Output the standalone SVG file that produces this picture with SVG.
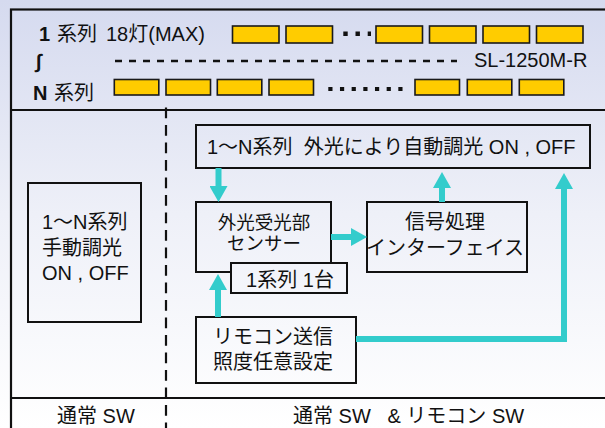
<svg xmlns="http://www.w3.org/2000/svg" width="605" height="428" viewBox="0 0 605 428">
<defs>
<linearGradient id="bg" gradientUnits="userSpaceOnUse" x1="0" y1="0" x2="0" y2="428">
<stop offset="0" stop-color="#d5daef"/>
<stop offset="0.5" stop-color="#eef0f8"/>
<stop offset="1" stop-color="#ffffff"/>
</linearGradient>
<marker id="ah" markerUnits="userSpaceOnUse" markerWidth="16" markerHeight="18" refX="0" refY="9" orient="auto" viewBox="0 0 16 18">
<path d="M0,0 L16,9 L0,18 z" fill="#33cccc"/>
</marker>
<style>
text{font-family:"Liberation Sans","Noto Sans CJK JP",sans-serif;font-size:20px;fill:#111;}
.box{fill:none;stroke:#111;stroke-width:2;}
.lamp{fill:#ffcc00;stroke:#1a1a1a;stroke-width:1.6;}
.frame{fill:none;stroke:#111;stroke-width:2.2;}
.conn{fill:none;stroke:#33cccc;stroke-width:6;marker-end:url(#ah);}
.b{font-weight:bold;}
.m{text-anchor:middle;}
.s{font-size:18.5px;}
</style>
</defs>
<rect x="0" y="0" width="605" height="428" fill="url(#bg)"/>
<g id="frame">
<rect class="frame" x="11" y="9.5" width="610" height="440"/>
<line class="frame" x1="11" y1="110" x2="605" y2="110"/>
<line class="frame" x1="11" y1="398" x2="605" y2="398"/>
<line x1="166" y1="107.5" x2="166" y2="428" stroke="#111" stroke-width="2.2" stroke-dasharray="10.7 6.8"/>
</g>
<g id="series">
<text x="39" y="41"><tspan class="b">1</tspan><tspan x="57">系列</tspan><tspan x="106">18灯(MAX)</tspan></text>
<text x="36" y="68" class="b" style="font-size:20px">∫</text>
<text x="474" y="67">SL-1250M-R</text>
<text x="33" y="100"><tspan class="b">N</tspan><tspan x="54">系列</tspan></text>
<line x1="115" y1="61" x2="457" y2="61" stroke="#111" stroke-width="2.6" stroke-dasharray="7 7"/>
<rect class="lamp" x="232.5" y="26" width="46.5" height="17"/>
<rect class="lamp" x="286" y="26" width="46.5" height="17"/>
<rect class="lamp" x="376" y="26" width="46.5" height="17"/>
<rect class="lamp" x="429.5" y="26" width="46.5" height="17"/>
<rect class="lamp" x="483" y="26" width="46.5" height="17"/>
<rect class="lamp" x="536.5" y="26" width="46.5" height="17"/>
<line x1="343.3" y1="33.7" x2="371" y2="33.7" stroke="#111" stroke-width="4.4" stroke-dasharray="4.4 7.8"/>
<rect class="lamp" x="114.3" y="79.5" width="44.5" height="15.5"/>
<rect class="lamp" x="166" y="79.5" width="44.5" height="15.5"/>
<rect class="lamp" x="217.3" y="79.5" width="44.5" height="15.5"/>
<rect class="lamp" x="269" y="79.5" width="44.5" height="15.5"/>
<rect class="lamp" x="415" y="79.5" width="44.5" height="15.5"/>
<rect class="lamp" x="467.3" y="79.5" width="44.5" height="15.5"/>
<rect class="lamp" x="519.3" y="79.5" width="44.5" height="15.5"/>
<line x1="328.3" y1="89" x2="403" y2="89" stroke="#111" stroke-width="4.2" stroke-dasharray="4.2 7.47"/>
</g>
<g id="manual">
<rect class="box" x="28" y="183" width="113" height="139"/>
<text x="42" y="229">1～N系列</text>
<text x="42" y="255">手動調光</text>
<text x="42" y="280">ON , OFF</text>
</g>
<g id="auto">
<rect class="box" x="196" y="125" width="394" height="43"/>
<text x="207" y="154" xml:space="preserve">1～N系列  外光により自動調光 ON , OFF</text>
</g>
<g id="sensor">
<rect class="box" x="196" y="202" width="135" height="70"/>
<text class="m s" x="264" y="229">外光受光部</text>
<text class="m s" x="264" y="250">センサー</text>
</g>
<g id="unit">
<rect x="231" y="263" width="116" height="30" fill="url(#bg)" stroke="#111" stroke-width="2"/>
<text class="m" x="290" y="286.5">1系列 1台</text>
</g>
<g id="interface">
<rect class="box" x="367" y="202" width="160" height="70"/>
<text class="m" x="445" y="229">信号処理</text>
<text class="m" x="445" y="255">インターフェイス</text>
</g>
<g id="remote">
<rect class="box" x="196" y="317" width="160" height="66"/>
<text x="213" y="343.5">リモコン送信</text>
<text x="213" y="369">照度任意設定</text>
</g>
<g id="connectors">
<path class="conn" d="M218.5,168 V186"/>
<path class="conn" d="M331,237 H351"/>
<path class="conn" d="M442,202 V188"/>
<path class="conn" d="M218,317 V290"/>
<path class="conn" d="M356,339 H564 V189"/>
</g>
<g id="labels">
<text x="57" y="423">通常 SW</text>
<text x="293" y="423" xml:space="preserve">通常 SW   &amp; リモコン SW</text>
</g>
</svg>
